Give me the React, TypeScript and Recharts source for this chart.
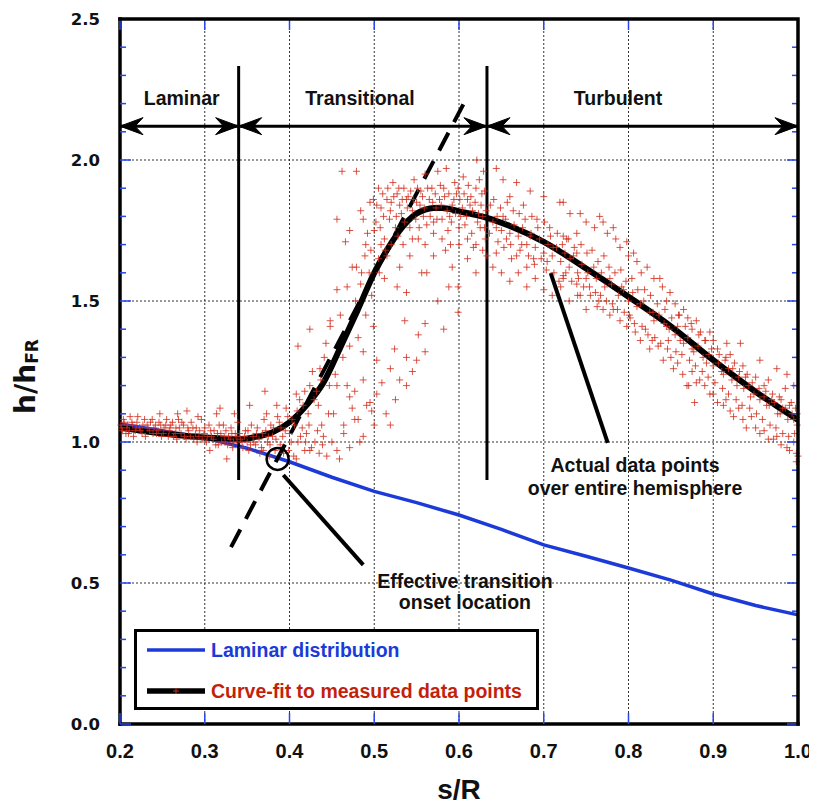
import React from 'react';
import { ComposedChart, Line, Scatter, XAxis, YAxis, CartesianGrid, ReferenceDot } from 'recharts';

// axis ticks
const xTicks = [0.2, 0.3, 0.4, 0.5, 0.6, 0.7, 0.8, 0.9, 1.0];
const yTicks = [0, 0.1, 0.2, 0.3, 0.4, 0.5, 0.6, 0.7, 0.8, 0.9, 1.0, 1.1, 1.2, 1.3, 1.4, 1.5, 1.6, 1.7, 1.8, 1.9, 2.0, 2.1, 2.2, 2.3, 2.4, 2.5];
const gridX = [0.3, 0.4, 0.5, 0.6, 0.7, 0.8, 0.9];
const gridY = [0.5, 1.0, 1.5, 2.0];

// laminar distribution (blue)
const laminarX = [0.2, 0.25, 0.3, 0.35, 0.4, 0.45, 0.5, 0.55, 0.6, 0.65, 0.7, 0.75, 0.8, 0.85, 0.9, 0.95, 1.0];
const laminarY = [1.064, 1.04, 1.014, 0.978, 0.93, 0.875, 0.825, 0.785, 0.741, 0.69, 0.635, 0.595, 0.553, 0.51, 0.461, 0.42, 0.387];

// curve-fit to measured data (black)
const fitX = [0.2, 0.25, 0.3, 0.34, 0.36, 0.38, 0.4, 0.42, 0.44, 0.46, 0.48, 0.5, 0.52, 0.53, 0.54, 0.55, 0.56, 0.57, 0.58, 0.6, 0.633, 0.66, 0.7, 0.75, 0.8, 0.85, 0.9, 0.95, 1.0];
const fitY = [1.05, 1.03, 1.016, 1.01, 1.018, 1.035, 1.07, 1.13, 1.21, 1.335, 1.465, 1.6, 1.705, 1.75, 1.785, 1.81, 1.824, 1.83, 1.83, 1.818, 1.795, 1.766, 1.71, 1.615, 1.515, 1.41, 1.29, 1.178, 1.078];

// measured data points over the hemisphere
const flatPoints = [
  [0.201, 1.06], [0.203, 1.04], [0.205, 1.07], [0.208, 1.05], [0.21, 1.03], [0.212, 1.09], [0.215, 1.06], [0.218, 1.04],
  [0.22, 1.07], [0.223, 1.05], [0.226, 1.03], [0.229, 1.08], [0.232, 1.06], [0.235, 1.04], [0.238, 1.08], [0.24, 1.05],
  [0.243, 1.03], [0.246, 1.07], [0.247, 1.1], [0.249, 1.02], [0.252, 1.05], [0.255, 1.08], [0.258, 1.04], [0.26, 1.06],
  [0.263, 1.02], [0.266, 1.05], [0.268, 1.1], [0.269, 1.08], [0.272, 1.03], [0.275, 1.06], [0.278, 1.01], [0.279, 1.11],
  [0.281, 1.04], [0.284, 1.07], [0.287, 1.01], [0.29, 1.05], [0.292, 1.09], [0.293, 1.02], [0.296, 1.08], [0.299, 1.03],
  [0.302, 1.0], [0.305, 1.06], [0.306, 0.97], [0.308, 1.02], [0.311, 1.04], [0.314, 1.1], [0.316, 0.99], [0.318, 1.12],
  [0.319, 1.03], [0.322, 1.06], [0.324, 1.0], [0.326, 0.94], [0.328, 1.02], [0.331, 1.05], [0.333, 0.98], [0.335, 1.1],
  [0.336, 1.03], [0.338, 1.0], [0.339, 1.07],
  [0.202, 1.05], [0.204, 1.08], [0.207, 1.03], [0.209, 1.06], [0.211, 1.04], [0.214, 1.07], [0.216, 1.02], [0.219, 1.05],
  [0.221, 1.09], [0.224, 1.04], [0.227, 1.06], [0.23, 1.02], [0.233, 1.05], [0.236, 1.07], [0.239, 1.03], [0.242, 1.06],
  [0.245, 1.04], [0.248, 1.06], [0.251, 1.03], [0.254, 1.06], [0.257, 1.02], [0.259, 1.05], [0.262, 1.07], [0.265, 1.03],
  [0.267, 1.01], [0.27, 1.05], [0.273, 1.07], [0.276, 1.02], [0.28, 1.05], [0.283, 1.02], [0.286, 1.05], [0.289, 1.03],
  [0.291, 1.0], [0.294, 1.04], [0.297, 1.01], [0.3, 1.05], [0.303, 1.02], [0.307, 1.04], [0.31, 1.01], [0.313, 0.99],
  [0.315, 1.03], [0.317, 1.06], [0.32, 1.0], [0.323, 1.02], [0.325, 1.04], [0.327, 0.99], [0.33, 1.01], [0.332, 1.03],
  [0.334, 1.0], [0.337, 1.02],
];
const onsetPoints = [
  [0.342, 1.01], [0.345, 0.98], [0.348, 1.04], [0.35, 1.0], [0.352, 0.97], [0.353, 1.13], [0.355, 1.06], [0.357, 1.02],
  [0.36, 0.99], [0.362, 1.05], [0.365, 0.96], [0.368, 1.03], [0.369, 0.97], [0.37, 1.08], [0.371, 1.18], [0.373, 1.1],
  [0.374, 1.0], [0.376, 0.95], [0.378, 1.06], [0.38, 1.02], [0.383, 0.97], [0.385, 1.13], [0.386, 1.09], [0.389, 0.99],
  [0.39, 1.05], [0.393, 0.96], [0.396, 1.12], [0.399, 0.97], [0.4, 1.03], [0.403, 1.08], [0.405, 0.95], [0.408, 0.94],
  [0.408, 1.17], [0.41, 1.0], [0.41, 1.34], [0.412, 1.15], [0.415, 1.05], [0.418, 0.97], [0.418, 1.18], [0.42, 1.03],
  [0.422, 1.1], [0.424, 0.97], [0.424, 1.2], [0.424, 1.4], [0.427, 1.25], [0.43, 1.0], [0.432, 1.18], [0.434, 1.13],
  [0.435, 0.96], [0.436, 1.26], [0.438, 1.06], [0.44, 1.02], [0.441, 1.3], [0.444, 0.95], [0.446, 1.1], [0.448, 1.43],
  [0.45, 1.0],
  [0.341, 1.03], [0.344, 1.0], [0.347, 1.02], [0.351, 1.04], [0.354, 0.99], [0.358, 1.0], [0.361, 1.03], [0.364, 1.01],
  [0.367, 0.98], [0.372, 1.04], [0.375, 1.02], [0.377, 0.99], [0.381, 1.05], [0.384, 1.01], [0.388, 1.07], [0.392, 1.02],
  [0.395, 1.04], [0.398, 1.09], [0.402, 1.0], [0.406, 1.06], [0.409, 1.11], [0.413, 1.02], [0.416, 1.13], [0.419, 1.0],
  [0.423, 1.06], [0.426, 0.98], [0.429, 1.15], [0.433, 1.04], [0.437, 1.22], [0.439, 0.99], [0.443, 1.35], [0.447, 1.2],
];
const risePoints = [
  [0.452, 1.1], [0.454, 1.24], [0.456, 0.97], [0.456, 1.2], [0.459, 0.94], [0.464, 1.06], [0.464, 1.03], [0.468, 1.2],
  [0.471, 1.16], [0.471, 0.98], [0.474, 1.12], [0.477, 1.08], [0.477, 1.18], [0.481, 1.08], [0.483, 1.0], [0.487, 1.22],
  [0.487, 1.02], [0.491, 1.13], [0.495, 1.14], [0.497, 1.11], [0.5, 1.06], [0.503, 1.17], [0.509, 1.21], [0.514, 1.1],
  [0.519, 1.06], [0.525, 1.15], [0.53, 1.22], [0.538, 1.2], [0.545, 1.25],
  [0.448, 1.41], [0.456, 1.54], [0.46, 1.45], [0.463, 1.3], [0.468, 1.55], [0.471, 1.34], [0.474, 1.62], [0.478, 1.5],
  [0.481, 1.37], [0.484, 1.56], [0.487, 1.32], [0.49, 1.45], [0.494, 1.6], [0.497, 1.52], [0.499, 1.41], [0.503, 1.29],
  [0.505, 1.65], [0.508, 1.7], [0.512, 1.58], [0.515, 1.66], [0.519, 1.26], [0.524, 1.33], [0.527, 1.55], [0.53, 1.62],
  [0.536, 1.43], [0.538, 1.53], [0.538, 1.3], [0.542, 1.66], [0.55, 1.29], [0.552, 1.38], [0.556, 1.6], [0.56, 1.42],
  [0.56, 1.32], [0.562, 1.6], [0.57, 1.66], [0.575, 1.5], [0.582, 1.4], [0.584, 1.68], [0.588, 1.55], [0.592, 1.62],
  [0.599, 1.55], [0.599, 1.46], [0.61, 1.65], [0.62, 1.6], [0.628, 1.68],
  [0.485, 1.6], [0.49, 1.7], [0.496, 1.68], [0.5, 1.75], [0.506, 1.6], [0.513, 1.68], [0.52, 1.7], [0.528, 1.73],
  [0.534, 1.7], [0.545, 1.72], [0.553, 1.76], [0.56, 1.7], [0.57, 1.78], [0.58, 1.72], [0.59, 1.7], [0.6, 1.76],
  [0.61, 1.72], [0.62, 1.7], [0.63, 1.76],
  [0.456, 1.79], [0.462, 1.96], [0.466, 1.71], [0.471, 1.75], [0.479, 1.96], [0.479, 1.62], [0.484, 1.82], [0.487, 1.79],
  [0.489, 1.66], [0.492, 1.74], [0.495, 1.85], [0.499, 1.86], [0.502, 1.78], [0.505, 1.9], [0.508, 1.83], [0.51, 1.88],
  [0.512, 1.72], [0.515, 1.86], [0.518, 1.79], [0.52, 1.85], [0.522, 1.92], [0.525, 1.76], [0.527, 1.88], [0.53, 1.84],
  [0.532, 1.81], [0.535, 1.9], [0.538, 1.86], [0.54, 1.87], [0.542, 1.76], [0.545, 1.82], [0.547, 1.93], [0.55, 1.85],
  [0.552, 1.72], [0.555, 1.89], [0.558, 1.8], [0.56, 1.95], [0.562, 1.77], [0.565, 1.86], [0.568, 1.9], [0.57, 1.74],
  [0.573, 1.83], [0.575, 1.96], [0.578, 1.91], [0.58, 1.79], [0.583, 1.87], [0.585, 1.97], [0.587, 1.75], [0.589, 1.8],
  [0.592, 1.84], [0.595, 1.92], [0.597, 1.88], [0.6, 1.7], [0.602, 1.8], [0.605, 1.94], [0.607, 1.77], [0.61, 1.86],
  [0.613, 1.84], [0.615, 1.74], [0.617, 1.69], [0.62, 1.9], [0.621, 2.0], [0.623, 1.81], [0.625, 1.76], [0.627, 1.88],
  [0.629, 1.96], [0.631, 1.72], [0.633, 1.66],
  [0.503, 1.84], [0.507, 1.76], [0.511, 1.8], [0.516, 1.9], [0.519, 1.82], [0.523, 1.87], [0.526, 1.8], [0.529, 1.9],
  [0.533, 1.86], [0.536, 1.78], [0.539, 1.83], [0.543, 1.89], [0.546, 1.86], [0.549, 1.79], [0.551, 1.9], [0.554, 1.84],
  [0.557, 1.87], [0.559, 1.83], [0.563, 1.9], [0.566, 1.8], [0.569, 1.85], [0.572, 1.88], [0.574, 1.79], [0.577, 1.86],
  [0.579, 1.84], [0.582, 1.9], [0.586, 1.82], [0.588, 1.88], [0.591, 1.78], [0.594, 1.86], [0.596, 1.81], [0.599, 1.9],
  [0.601, 1.86], [0.604, 1.83], [0.606, 1.88], [0.609, 1.8], [0.611, 1.91], [0.614, 1.87], [0.616, 1.82], [0.619, 1.85],
  [0.622, 1.78], [0.624, 1.93], [0.626, 1.84], [0.628, 1.8], [0.63, 1.89], [0.632, 1.82],
];
const turbulentPoints = [
  [0.637, 1.84], [0.644, 1.97], [0.644, 1.76], [0.644, 1.67], [0.652, 1.93], [0.652, 1.8], [0.656, 1.72], [0.66, 1.87],
  [0.662, 1.65], [0.668, 1.92], [0.672, 1.68], [0.676, 1.84], [0.68, 1.62], [0.684, 1.89], [0.684, 1.73], [0.688, 1.65],
  [0.692, 1.79], [0.7, 1.87], [0.703, 1.61], [0.707, 1.76], [0.711, 1.69], [0.719, 1.85], [0.723, 1.73], [0.723, 1.59],
  [0.731, 1.81], [0.731, 1.65], [0.739, 1.74], [0.739, 1.56],
  [0.64, 1.78], [0.645, 1.8], [0.65, 1.75], [0.655, 1.79], [0.66, 1.74], [0.665, 1.77], [0.67, 1.73], [0.675, 1.76],
  [0.68, 1.7], [0.685, 1.74], [0.69, 1.69], [0.695, 1.72], [0.7, 1.67], [0.705, 1.7], [0.71, 1.66], [0.715, 1.69],
  [0.72, 1.64], [0.725, 1.67], [0.73, 1.62], [0.735, 1.66], [0.74, 1.6], [0.745, 1.63], [0.75, 1.58],
  [0.64, 1.62], [0.65, 1.6], [0.66, 1.57], [0.67, 1.6], [0.68, 1.55], [0.69, 1.58], [0.7, 1.54], [0.71, 1.52],
  [0.72, 1.55], [0.73, 1.5], [0.74, 1.52], [0.75, 1.47],
  [0.723, 1.85], [0.743, 1.81], [0.75, 1.78], [0.76, 1.76], [0.766, 1.8], [0.77, 1.78], [0.775, 1.74], [0.782, 1.76],
  [0.785, 1.72], [0.79, 1.69], [0.798, 1.71], [0.8, 1.66], [0.806, 1.67], [0.81, 1.64], [0.815, 1.6], [0.822, 1.62],
  [0.83, 1.58], [0.837, 1.58], [0.84, 1.55], [0.845, 1.5], [0.849, 1.53], [0.855, 1.49], [0.86, 1.45], [0.865, 1.47],
  [0.87, 1.44], [0.875, 1.4], [0.88, 1.43], [0.885, 1.39], [0.89, 1.36], [0.896, 1.39], [0.9, 1.36], [0.905, 1.33],
  [0.915, 1.3], [0.916, 1.35], [0.92, 1.31], [0.925, 1.28], [0.932, 1.35], [0.935, 1.27], [0.94, 1.24], [0.95, 1.23],
  [0.955, 1.29], [0.96, 1.2], [0.965, 1.22], [0.97, 1.17], [0.975, 1.26], [0.98, 1.15], [0.985, 1.19], [0.987, 1.24],
  [0.99, 1.13], [0.995, 1.2], [0.997, 1.12],
  [0.727, 1.72], [0.739, 1.67], [0.752, 1.6], [0.759, 1.62], [0.762, 1.58], [0.768, 1.6], [0.772, 1.55], [0.778, 1.58],
  [0.78, 1.56], [0.788, 1.52], [0.792, 1.55], [0.794, 1.54], [0.8, 1.5], [0.805, 1.53], [0.81, 1.48], [0.814, 1.49],
  [0.818, 1.5], [0.825, 1.46], [0.829, 1.46], [0.83, 1.43], [0.836, 1.45], [0.842, 1.42], [0.845, 1.41], [0.848, 1.4],
  [0.855, 1.38], [0.858, 1.41], [0.861, 1.36], [0.865, 1.35], [0.87, 1.37], [0.875, 1.33], [0.877, 1.32], [0.882, 1.34],
  [0.888, 1.3], [0.892, 1.28], [0.895, 1.31], [0.9, 1.27], [0.906, 1.28], [0.91, 1.25], [0.912, 1.24], [0.918, 1.26],
  [0.922, 1.22], [0.928, 1.2], [0.93, 1.23], [0.936, 1.19], [0.942, 1.2], [0.944, 1.16], [0.948, 1.17], [0.955, 1.15],
  [0.96, 1.16], [0.963, 1.13], [0.966, 1.13], [0.972, 1.14], [0.976, 1.1], [0.979, 1.1], [0.982, 1.12], [0.988, 1.08],
  [0.993, 1.1], [0.995, 1.08], [0.999, 1.06],
  [0.723, 1.58], [0.743, 1.52], [0.755, 1.52], [0.763, 1.48], [0.765, 1.5], [0.77, 1.47], [0.778, 1.45], [0.782, 1.47],
  [0.79, 1.43], [0.798, 1.41], [0.802, 1.44], [0.808, 1.39], [0.814, 1.36], [0.82, 1.4], [0.825, 1.33], [0.828, 1.36],
  [0.835, 1.34], [0.841, 1.29], [0.846, 1.33], [0.85, 1.3], [0.853, 1.26], [0.858, 1.28], [0.864, 1.24], [0.869, 1.2],
  [0.871, 1.2], [0.875, 1.25], [0.878, 1.14], [0.88, 1.21], [0.884, 1.22], [0.89, 1.2], [0.896, 1.17], [0.9, 1.17],
  [0.905, 1.14], [0.912, 1.13], [0.915, 1.15], [0.92, 1.11], [0.924, 1.09], [0.93, 1.12], [0.935, 1.08], [0.939, 1.05],
  [0.945, 1.09], [0.95, 1.05], [0.955, 1.03], [0.96, 1.04], [0.965, 1.01], [0.971, 1.01], [0.975, 1.02], [0.98, 0.99],
  [0.987, 0.98], [0.99, 0.97], [0.995, 1.0], [0.998, 0.96], [1.0, 0.95], [0.998, 0.93],
  [0.636, 1.74], [0.641, 1.86], [0.646, 1.71], [0.649, 1.83], [0.653, 1.69], [0.657, 1.85], [0.661, 1.7], [0.664, 1.82],
  [0.668, 1.66], [0.671, 1.81], [0.674, 1.7], [0.678, 1.79], [0.682, 1.66], [0.686, 1.8], [0.689, 1.63], [0.693, 1.76],
  [0.697, 1.65], [0.701, 1.78], [0.704, 1.64], [0.708, 1.73], [0.712, 1.6], [0.716, 1.74], [0.718, 1.57], [0.722, 1.7],
  [0.726, 1.6], [0.729, 1.72], [0.733, 1.57], [0.736, 1.69], [0.741, 1.58], [0.744, 1.7], [0.747, 1.55], [0.751, 1.67],
  [0.754, 1.55], [0.757, 1.68], [0.761, 1.53], [0.764, 1.64], [0.767, 1.52], [0.771, 1.66], [0.774, 1.5], [0.777, 1.62],
  [0.781, 1.49], [0.784, 1.6], [0.787, 1.47], [0.791, 1.61], [0.795, 1.46], [0.797, 1.57], [0.801, 1.45], [0.804, 1.58],
  [0.807, 1.42], [0.811, 1.54], [0.816, 1.41], [0.819, 1.54], [0.823, 1.38], [0.826, 1.52], [0.831, 1.37], [0.834, 1.49],
  [0.838, 1.35], [0.843, 1.47], [0.847, 1.36], [0.851, 1.44], [0.856, 1.32], [0.859, 1.45], [0.863, 1.31], [0.867, 1.41],
  [0.872, 1.29], [0.874, 1.42], [0.879, 1.27], [0.883, 1.38], [0.887, 1.25], [0.891, 1.36], [0.894, 1.23], [0.898, 1.33],
  [0.902, 1.21], [0.907, 1.31], [0.911, 1.19], [0.914, 1.29], [0.918, 1.17], [0.923, 1.26], [0.927, 1.15], [0.931, 1.25],
  [0.934, 1.13], [0.938, 1.23], [0.943, 1.12], [0.946, 1.21], [0.951, 1.1], [0.954, 1.19], [0.958, 1.08], [0.962, 1.18],
  [0.967, 1.06], [0.969, 1.15], [0.974, 1.05], [0.978, 1.16], [0.982, 1.03], [0.985, 1.12], [0.989, 1.02], [0.992, 1.14],
  [0.996, 1.03], [0.999, 1.1],
];

// flow regimes
const regionBounds = [0.2, 0.34, 0.633, 1.0];
const arrowLevel = 2.12;
const boundaryBottom = 0.865;
const boundaryTop = 2.333;
const regionLabels = ['Laminar', 'Transitional', 'Turbulent'];
const regionLabelX = [0.2728, 0.4832, 0.7876];
const regionLabelY = 2.195;

// transition onset construction
const onsetTangent = [{ x: 0.331, y: 0.627 }, { x: 0.611, y: 2.231 }];
const onsetPoint = { x: 0.386, y: 0.94 };
const onsetPointer = [{ x: 0.3927, y: 0.883 }, { x: 0.487, y: 0.564 }];
const dataPointer = [{ x: 0.7082, y: 1.599 }, { x: 0.7755, y: 0.9965 }];
const notes = [
  { x: 0.607, y: 0.482, text: 'Effective transition' },
  { x: 0.607, y: 0.408, text: 'onset location' },
  { x: 0.8077, y: 0.894, text: 'Actual data points' },
  { x: 0.8077, y: 0.812, text: 'over entire hemisphere' },
];

const X_MIN = 0.2;
const X_MAX = 1.0;
const Y_MIN = 0;
const Y_MAX = 2.5;

// chart box
const W = 809;
const H = 801;
const M = { top: 11, right: 19, left: 52, bottom: 25 };
const Y_AXIS_W = 60;
const X_AXIS_H = 60;
const PLOT = { left: M.left + Y_AXIS_W, top: M.top, right: W - M.right, bottom: H - M.bottom - X_AXIS_H };

const laminarData = laminarX.map((x, i) => ({ x, y: laminarY[i] }));
const fitData = fitX.map((x, i) => ({ x, y: fitY[i] }));
const measuredData = [...flatPoints, ...onsetPoints, ...risePoints, ...turbulentPoints].map(([x, y]) => ({ x, y }));
const arrowData = regionBounds.slice(1).map((end, i) => [{ x: regionBounds[i], y: arrowLevel }, { x: end, y: arrowLevel }]);
const boundaryData = regionBounds.slice(1, 3).map(x => [{ x, y: boundaryBottom }, { x, y: boundaryTop }]);

const SANS = "'Liberation Sans', Arial, sans-serif";
const TICK_BLUE = '#2546f0';
const LAMINAR_BLUE = '#1c3ad8';
const DATA_RED = '#d22a1a';
const FRAME = { stroke: '#000', strokeWidth: 3.5, strokeLinecap: 'square' as const };

const isMajor = (v: number) => Math.abs(v * 2 - Math.round(v * 2)) < 1e-6;

const BottomTick = (props: any) => {
  const { x, y, payload } = props;
  return (
    <g>
      <line x1={x} y1={y} x2={x} y2={y - 11} stroke={TICK_BLUE} strokeWidth={1.5} />
      <text x={x} y={y + 34} textAnchor="middle" fontFamily={SANS} fontWeight="bold" fontSize={20} fill="#111">
        {Number(payload.value).toFixed(1)}
      </text>
    </g>
  );
};

const LeftTick = (props: any) => {
  const { x, y, payload } = props;
  const major = isMajor(payload.value);
  return (
    <g>
      <line x1={x} y1={y} x2={x + (major ? 11 : 6)} y2={y} stroke={TICK_BLUE} strokeWidth={1.5} />
      {major && (
        <text x={x - 20} y={y + 6} textAnchor="end" fontFamily="'DejaVu Sans', sans-serif" fontWeight="bold" fontSize={16.5} fill="#111">
          {Number(payload.value).toFixed(1)}
        </text>
      )}
    </g>
  );
};

const Cross = (props: any) => {
  const { cx, cy } = props;
  if (cx == null || cy == null) return <g />;
  return <path d={`M${cx - 3.5},${cy}h7M${cx},${cy - 3.5}v7`} stroke={DATA_RED} strokeOpacity={0.8} strokeWidth={1} fill="none" />;
};

const ArrowHead = (props: any) => {
  const { cx, cy, index } = props;
  const d = index === 0 ? -1 : 1;
  const path = `M${cx},${cy} L${cx - d * 23},${cy - 8.5} L${cx - d * 15},${cy} L${cx - d * 23},${cy + 8.5} Z`;
  return <path key={`ah-${index}`} d={path} fill="#000" stroke="#000" strokeWidth={1} strokeLinejoin="miter" />;
};

const textAt = (content: string, size: number) => (props: any) => (
  <text x={props.cx} y={props.cy} textAnchor="middle" fontFamily={SANS} fontWeight="bold" fontSize={size} fill="#111">
    {content}
  </text>
);

// top and right edges of the plot frame, with inward blue ticks like the left and bottom axes
const FrameOverlay = () => {
  const pw = PLOT.right - PLOT.left;
  const ph = PLOT.bottom - PLOT.top;
  const sx = (v: number) => PLOT.left + ((v - X_MIN) / (X_MAX - X_MIN)) * pw;
  const sy = (v: number) => PLOT.bottom - ((v - Y_MIN) / (Y_MAX - Y_MIN)) * ph;
  return (
    <svg width={W} height={H} style={{ position: 'absolute', left: 0, top: 0, pointerEvents: 'none' }}>
      {xTicks.map(t => (
        <line key={`t${t}`} x1={sx(t)} y1={PLOT.top} x2={sx(t)} y2={PLOT.top + 11} stroke={TICK_BLUE} strokeWidth={1.5} />
      ))}
      {yTicks.map(t => (
        <line key={`r${t}`} x1={PLOT.right} y1={sy(t)} x2={PLOT.right - (isMajor(t) ? 11 : 6)} y2={sy(t)} stroke={TICK_BLUE} strokeWidth={1.5} />
      ))}
      <path
        d={`M${PLOT.left},${PLOT.top} H${PLOT.right} V${PLOT.bottom}`}
        fill="none" stroke="#000" strokeWidth={3.5} strokeLinecap="square" strokeLinejoin="miter"
      />
    </svg>
  );
};

const Legend = () => (
  <div style={{ position: 'absolute', left: 126, top: 621, width: 405, height: 81, boxSizing: 'border-box', border: '3px solid #000', background: '#fff' }}>
    <svg width={399} height={75} style={{ display: 'block' }}>
      <line x1={10} y1={18} x2={68} y2={18} stroke={LAMINAR_BLUE} strokeWidth={3.5} />
      <text x={74} y={25} fontFamily={SANS} fontWeight="bold" fontSize={19.5} fill={LAMINAR_BLUE}>Laminar distribution</text>
      <line x1={10} y1={59} x2={68} y2={59} stroke="#000" strokeWidth={5.5} />
      <path d="M36,59h6M39,56v6" stroke={DATA_RED} strokeWidth={1} />
      <text x={74} y={66} fontFamily={SANS} fontWeight="bold" fontSize={19.5} fill="#c41f0c">Curve-fit to measured data points</text>
    </svg>
  </div>
);

const App = () => {
  return (
    <div style={{ position: 'relative', width: W, height: H }}>
      <ComposedChart width={W} height={H} margin={M}>
        <CartesianGrid stroke="#333" strokeDasharray="2 2" horizontalValues={gridY} verticalValues={gridX} />
        <XAxis
          dataKey="x" type="number" domain={[X_MIN, X_MAX]} ticks={xTicks} interval={0} height={X_AXIS_H}
          tickSize={0} tickMargin={0} tickLine={false} tick={BottomTick} axisLine={FRAME}
          label={{
            content: (p: any) => (
              <text x={p.viewBox.x + p.viewBox.width / 2} y={p.viewBox.y + 75} textAnchor="middle" fontFamily={SANS} fontWeight="bold" fontSize={28} fill="#111">
                s/R
              </text>
            ),
          }}
        />
        <YAxis
          type="number" domain={[Y_MIN, Y_MAX]} ticks={yTicks} interval={0} width={Y_AXIS_W}
          tickSize={0} tickMargin={0} tickLine={false} tick={LeftTick} axisLine={FRAME}
          label={{
            content: (p: any) => {
              const cx = p.viewBox.x - 25;
              const cy = p.viewBox.y + p.viewBox.height / 2 + 5;
              return (
                <text x={cx} y={cy} transform={`rotate(-90, ${cx}, ${cy})`} textAnchor="middle" fontFamily="'DejaVu Sans', sans-serif" fontWeight="bold" fontSize={28} fill="#111">
                  h/h<tspan fontSize={17} dy={3}>FR</tspan>
                </text>
              );
            },
          }}
        />

        <Scatter data={measuredData} dataKey="y" shape={Cross} isAnimationActive={false} />
        <Line data={laminarData} dataKey="y" type="linear" stroke={LAMINAR_BLUE} strokeWidth={3.5} dot={false} activeDot={false} isAnimationActive={false} />
        <Line data={fitData} dataKey="y" type="monotone" stroke="#000" strokeWidth={6} dot={false} activeDot={false} isAnimationActive={false} />
        {boundaryData.map((seg, i) => (
          <Line key={`b${i}`} data={seg} dataKey="y" stroke="#000" strokeWidth={3} dot={false} activeDot={false} isAnimationActive={false} />
        ))}
        <Line data={onsetTangent} dataKey="y" stroke="#000" strokeWidth={4} strokeDasharray="20 12" dot={false} activeDot={false} isAnimationActive={false} />
        {arrowData.map((seg, i) => (
          <Line key={`a${i}`} data={seg} dataKey="y" stroke="#000" strokeWidth={3} dot={ArrowHead} activeDot={false} isAnimationActive={false} />
        ))}
        <Line data={onsetPointer} dataKey="y" stroke="#000" strokeWidth={4} dot={false} activeDot={false} isAnimationActive={false} />
        <Line data={dataPointer} dataKey="y" stroke="#000" strokeWidth={4} dot={false} activeDot={false} isAnimationActive={false} />
        <ReferenceDot x={onsetPoint.x} y={onsetPoint.y} r={11} fill="none" stroke="#000" strokeWidth={2.5} />
        {regionLabels.map((label, i) => (
          <ReferenceDot key={label} x={regionLabelX[i]} y={regionLabelY} r={0} shape={textAt(label, 19.5)} />
        ))}
        {notes.map(n => (
          <ReferenceDot key={n.text} x={n.x} y={n.y} r={0} shape={textAt(n.text, 19.5)} />
        ))}
      </ComposedChart>
      <FrameOverlay />
      <Legend />
    </div>
  );
};

export default App;
